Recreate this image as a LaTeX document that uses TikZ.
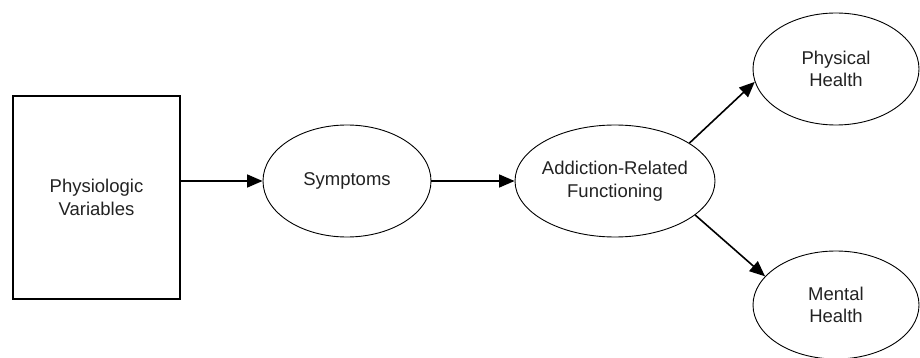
\documentclass[tikz,border=0pt]{standalone}
\usepackage{fontspec}
\setmainfont{Liberation Sans}
\usetikzlibrary{shapes.geometric,arrows.meta}
\definecolor{txt}{HTML}{222222}
\begin{document}
\begin{tikzpicture}[x=1pt,y=-1pt,
  every node/.style={font=\fontsize{18.5}{22.5}\selectfont, text=txt, align=center},
  oval/.style={draw, ellipse, line width=0.9pt, inner sep=-5pt},
  boxnode/.style={draw, rectangle, line width=1.2pt, inner sep=0pt},
  arr/.style={line width=1.6pt, -{Triangle[length=15.5pt, width=13pt]}}]
\useasboundingbox (0,0) rectangle (920,358);
\node[boxnode, minimum width=167pt, minimum height=203pt] (phys) at (96.5,197.5) {Physiologic\\Variables};
\node[oval, minimum width=168pt, minimum height=112pt] (sym) at (347,181) {Symptoms};
\node[oval, minimum width=200pt, minimum height=112pt] (add) at (615,181) {Addiction-Related\\Functioning};
\node[oval, minimum width=166pt, minimum height=112pt] (ph) at (836,69) {Physical\\Health};
\node[oval, minimum width=166pt, minimum height=108pt] (mh) at (836,305) {Mental\\Health};
\draw[arr] (phys.east |- sym.west) -- (sym.west);
\draw[arr] (sym.east) -- (add.west);
\draw[arr] (add.27.7) -- (ph.189.8);
\draw[arr] (add.-23.9) -- (mh.158.3);
\end{tikzpicture}
\end{document}
